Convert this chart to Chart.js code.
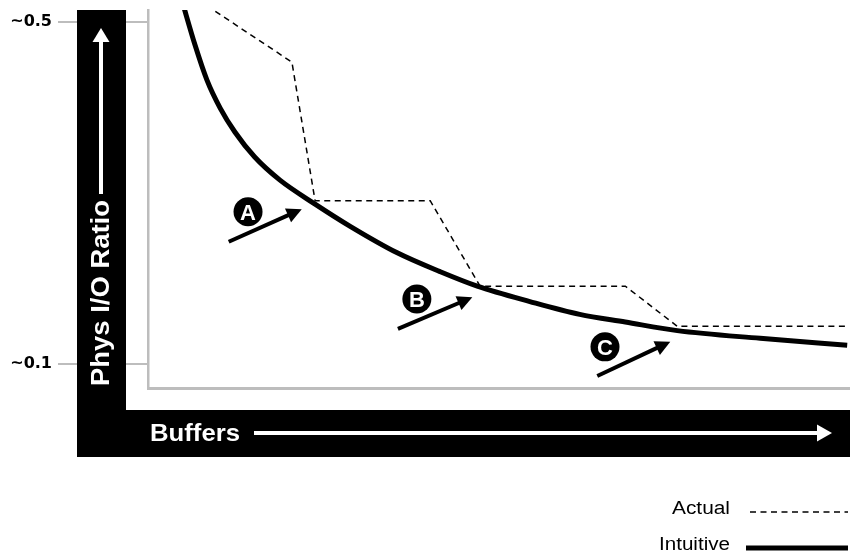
<!DOCTYPE html>
<html>
<head>
<meta charset="utf-8">
<script src="https://cdn.jsdelivr.net/npm/chart.js@4/dist/chart.umd.min.js"></script>
<style>
html,body{margin:0;padding:0;background:#fff;}
canvas{display:block;}
</style>
</head>
<body>
<canvas id="c" width="850" height="552"></canvas>
<script>
// ---------- data ----------
const seriesNames = ['Actual', 'Intuitive'];
const actualX = [7.1, 20.5, 23.8, 40.2, 47.3, 68.0, 75.4, 99.6];
const actualY = [0.526, 0.453, 0.291, 0.291, 0.191, 0.191, 0.144, 0.144];
const intuitiveX = [4.8, 6.7, 8.4, 10.3, 12.4, 15.2, 18.8, 23.8, 28.8, 35.5, 41.6, 46.9, 54.4, 61.5, 68.0, 75.4, 87.2, 99.6];
const intuitiveY = [0.526, 0.473, 0.432, 0.399, 0.371, 0.342, 0.315, 0.287, 0.261, 0.230, 0.208, 0.191, 0.173, 0.158, 0.149, 0.139, 0.130, 0.122];
const yTickValues = [0.1, 0.5];
const yTickLabels = ['~0.1', '~0.5'];
const xAxisTitle = 'Buffers';
const yAxisTitle = 'Phys I/O Ratio';
const markerLabels = ['A', 'B', 'C'];
const markerX = [14.25, 38.3, 65.1];
const markerY = [0.278, 0.176, 0.120];
const arrowFromX = [11.5, 35.6, 64.0];
const arrowFromY = [0.243, 0.141, 0.086];
const arrowToX = [21.9, 46.2, 74.4];
const arrowToY = [0.281, 0.178, 0.126];
const xMin = 0, xMax = 100;
const yMin = 0.0719, yMax = 0.514;

// ---------- helpers ----------
function fitText(ctx, text, x, y, font, targetW, align, color) {
  ctx.save();
  ctx.font = font;
  const w = ctx.measureText(text).width;
  const s = targetW ? targetW / w : 1;
  ctx.translate(x, y);
  ctx.scale(s, 1);
  ctx.textAlign = align || 'left';
  ctx.textBaseline = 'alphabetic';
  ctx.fillStyle = color || '#000';
  ctx.fillText(text, 0, 0);
  ctx.restore();
}
function arrow(ctx, x0, y0, x1, y1, lw, headLen, headHalf, color) {
  const a = Math.atan2(y1 - y0, x1 - x0);
  const c = Math.cos(a), s = Math.sin(a);
  const bx = x1 - headLen * c, by = y1 - headLen * s;
  ctx.save();
  ctx.strokeStyle = color; ctx.fillStyle = color;
  ctx.lineWidth = lw; ctx.lineCap = 'butt';
  ctx.beginPath();
  ctx.moveTo(x0, y0);
  ctx.lineTo(bx + c, by + s);
  ctx.stroke();
  ctx.beginPath();
  ctx.moveTo(x1, y1);
  ctx.lineTo(bx - headHalf * s, by + headHalf * c);
  ctx.lineTo(bx + headHalf * s, by - headHalf * c);
  ctx.closePath();
  ctx.fill();
  ctx.restore();
}

const decor = {
  id: 'decor',
  afterDraw(chart) {
    const {ctx, chartArea: ca, scales: {x, y}} = chart;
    ctx.save();
    // black axis-title bars
    const barL = ca.left - 71, barW = 49, barBottom = ca.bottom + 69;
    ctx.fillStyle = '#000';
    ctx.fillRect(barL, ca.top, barW, barBottom - ca.top);
    ctx.fillRect(barL, ca.bottom + 22, chart.width - barL, 47);

    // vertical title + arrow
    const vcx = barL + 24;
    arrow(ctx, vcx, 194, vcx, ca.top + 18, 4, 14, 8.5, '#fff');
    ctx.save();
    ctx.translate(barL + 32, ca.bottom - 2);
    ctx.rotate(-Math.PI / 2);
    fitText(ctx, yAxisTitle, 0, 0, 'bold 25px "Liberation Sans", Arial, sans-serif', 186, 'left', '#fff');
    ctx.restore();

    // horizontal title + arrow
    const hy = ca.bottom + 45;
    fitText(ctx, xAxisTitle, ca.left + 2, ca.bottom + 53, 'bold 23px "Liberation Sans", Arial, sans-serif', 90, 'left', '#fff');
    arrow(ctx, 254, hy, 832, hy, 4, 15, 8.5, '#fff');

    // markers A, B, C
    for (let i = 0; i < markerLabels.length; i++) {
      const cx = x.getPixelForValue(markerX[i]);
      const cy = y.getPixelForValue(markerY[i]);
      ctx.fillStyle = '#000';
      ctx.beginPath();
      ctx.arc(cx, cy, 14.5, 0, Math.PI * 2);
      ctx.fill();
      fitText(ctx, markerLabels[i], cx, cy + 8, 'bold 22px "Liberation Sans", Arial, sans-serif', 0, 'center', '#fff');
      arrow(ctx,
        x.getPixelForValue(arrowFromX[i]), y.getPixelForValue(arrowFromY[i]),
        x.getPixelForValue(arrowToX[i]), y.getPixelForValue(arrowToY[i]),
        4, 15, 7.5, '#000');
    }

    // legend
    const ds = chart.data.datasets;
    const legendRows = [{ty: 514, ly: 512, lx0: 750, tw: 58}, {ty: 550, ly: 548, lx0: 746, tw: 71}];
    ds.forEach((d, i) => {
      const r = legendRows[i];
      fitText(ctx, d.label, 730, r.ty, '18px "Liberation Sans", Arial, sans-serif', r.tw, 'right', '#000');
      ctx.save();
      ctx.strokeStyle = d.borderColor;
      ctx.lineWidth = d.borderWidth;
      ctx.setLineDash(d.borderDash || []);
      ctx.beginPath();
      ctx.moveTo(r.lx0, r.ly);
      ctx.lineTo(chart.width - 2, r.ly);
      ctx.stroke();
      ctx.restore();
    });
    ctx.restore();
  }
};

new Chart(document.getElementById('c').getContext('2d'), {
  type: 'line',
  data: {
    datasets: [
      {
        label: seriesNames[0],
        data: actualX.map((v, i) => ({x: v, y: actualY[i]})),
        borderColor: '#000', borderWidth: 1.5, borderDash: [6, 4.5],
        pointRadius: 0, tension: 0, fill: false
      },
      {
        label: seriesNames[1],
        data: intuitiveX.map((v, i) => ({x: v, y: intuitiveY[i]})),
        borderColor: '#000', borderWidth: 5,
        pointRadius: 0, cubicInterpolationMode: 'monotone', fill: false
      }
    ]
  },
  options: {
    responsive: false, animation: false, devicePixelRatio: 1,
    layout: {padding: {top: 10, left: 0, right: 0, bottom: 0}},
    plugins: {legend: {display: false}, tooltip: {enabled: false}},
    scales: {
      x: {
        type: 'linear', min: xMin, max: xMax,
        ticks: {display: false},
        grid: {display: false},
        border: {display: true, color: '#bdbdbd', width: 3},
        afterFit(s) { s.height = 164; s.paddingLeft = 0; s.paddingRight = 0; }
      },
      y: {
        type: 'linear', min: yMin, max: yMax,
        afterBuildTicks(s) { s.ticks = yTickValues.map(v => ({value: v})); },
        ticks: {
          callback: (v, i) => yTickLabels[i],
          font: {family: 'DejaVu Sans', weight: 'bold', size: 16},
          color: '#000', padding: 6
        },
        grid: {drawOnChartArea: false, drawTicks: true, tickLength: 90, color: '#bdbdbd', lineWidth: 2},
        border: {display: true, color: '#bdbdbd', width: 2.5},
        afterFit(s) { s.width = 148; s.paddingTop = 0; s.paddingBottom = 0; }
      }
    }
  },
  plugins: [decor]
});
</script>
</body>
</html>
